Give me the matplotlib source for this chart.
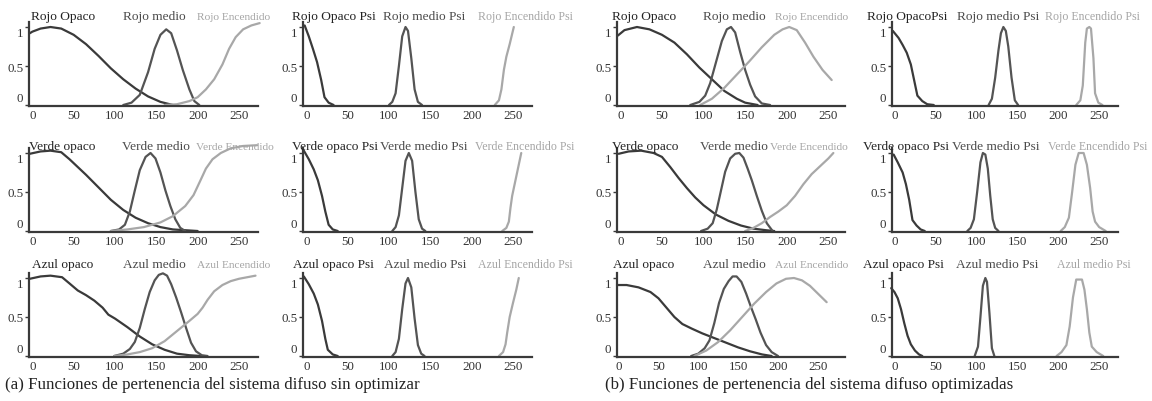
import matplotlib
matplotlib.use("Agg")
import matplotlib.pyplot as plt
from matplotlib.transforms import ScaledTranslation

plt.rcParams['font.family'] = ['Liberation Serif', 'DejaVu Serif']

W, H = 1152, 402

# ---------------- datos ----------------
# (a) sin optimizar -- cada lista: [opaco, medio, encendido]
a_rojo_x = [
    [-3, 0, 10, 22, 35, 50, 65, 80, 95, 110, 125, 140, 155, 170],
    [110, 120, 130, 140, 148, 155, 162, 168, 175, 182, 190, 196, 202],
    [160, 175, 190, 200, 210, 220, 230, 238, 246, 255, 265, 275],
]
a_rojo_y = [
    [0.92, 0.94, 0.98, 1.0, 0.98, 0.9, 0.78, 0.63, 0.47, 0.33, 0.21, 0.11, 0.04, 0.0],
    [0, 0.03, 0.13, 0.42, 0.72, 0.9, 0.97, 0.92, 0.7, 0.45, 0.2, 0.05, 0],
    [0, 0.01, 0.05, 0.1, 0.2, 0.33, 0.52, 0.72, 0.87, 0.97, 1.02, 1.05],
]
a_rojo_psi_x = [
    [-2, 3, 8, 13, 18, 22, 27, 33],
    [100, 104, 108, 112, 116, 120, 123, 127, 131, 135, 140],
    [228, 233, 236, 239, 242, 246, 251],
]
a_rojo_psi_y = [
    [1.02, 0.88, 0.72, 0.55, 0.32, 0.1, 0.03, 0],
    [0, 0.04, 0.15, 0.5, 0.88, 1.0, 0.95, 0.6, 0.2, 0.04, 0],
    [0, 0.06, 0.2, 0.45, 0.62, 0.78, 1.0],
]
a_verde_x = [
    [-3, 10, 22, 35, 45, 55, 65, 80, 95, 110, 125, 140, 155, 170, 185, 200],
    [95, 105, 112, 118, 124, 130, 137, 143, 149, 155, 161, 167, 173, 179, 185],
    [95, 115, 135, 155, 170, 185, 195, 203, 210, 218, 228, 240, 255, 272],
]
a_verde_y = [
    [0.99, 1.02, 1.03, 1.01, 0.92, 0.82, 0.72, 0.56, 0.4, 0.27, 0.17, 0.1, 0.05, 0.02, 0.01, 0.0],
    [0, 0.02, 0.08, 0.25, 0.52, 0.78, 0.95, 1.0, 0.93, 0.75, 0.52, 0.32, 0.15, 0.04, 0],
    [0, 0.02, 0.05, 0.11, 0.19, 0.32, 0.46, 0.64, 0.8, 0.92, 1.0, 1.06, 1.09, 1.1],
]
a_verde_psi_x = [
    [-3, 3, 9, 14, 19, 23, 27, 32, 38],
    [104, 108, 112, 116, 120, 124, 128, 132, 136, 140, 144],
    [237, 242, 245, 247, 249, 252, 256, 260],
]
a_verde_psi_y = [
    [1.03, 0.92, 0.79, 0.65, 0.45, 0.25, 0.08, 0.02, 0],
    [0, 0.05, 0.2, 0.55, 0.9, 1.0, 0.9, 0.5, 0.15, 0.03, 0],
    [0, 0.04, 0.12, 0.3, 0.45, 0.6, 0.8, 1.0],
]
a_azul_x = [
    [-3, 10, 22, 36, 45, 55, 65, 75, 85, 92, 100, 115, 130, 145, 160, 175, 190, 204],
    [99, 110, 118, 124, 130, 136, 142, 148, 153, 158, 163, 168, 174, 180, 186, 192, 198, 205, 212],
    [99, 115, 130, 145, 160, 175, 190, 200, 206, 212, 220, 230, 240, 250, 260, 270],
]
a_azul_y = [
    [0.99, 1.02, 1.03, 1.01, 0.93, 0.84, 0.78, 0.71, 0.62, 0.53, 0.48, 0.37, 0.25, 0.15, 0.08, 0.03, 0.01, 0],
    [0, 0.03, 0.09, 0.18, 0.36, 0.6, 0.82, 0.97, 1.04, 1.06, 1.03, 0.92, 0.75, 0.56, 0.36, 0.17, 0.06, 0.01, 0],
    [0, 0.02, 0.05, 0.1, 0.19, 0.32, 0.45, 0.54, 0.62, 0.72, 0.83, 0.91, 0.96, 0.99, 1.01, 1.03],
]
a_azul_psi_x = [
    [-3, 3, 9, 14, 19, 23, 26, 32, 38],
    [104, 108, 112, 116, 120, 123, 127, 131, 135, 139, 143],
    [233, 238, 241, 243, 246, 250, 254, 257],
]
a_azul_psi_y = [
    [1.02, 0.92, 0.8, 0.66, 0.45, 0.22, 0.08, 0.02, 0],
    [0, 0.05, 0.22, 0.6, 0.93, 1.0, 0.88, 0.48, 0.14, 0.03, 0],
    [0, 0.05, 0.15, 0.3, 0.5, 0.68, 0.85, 1.0],
]

# (b) optimizadas
b_rojo_x = [
    [-3, 5, 20, 35, 50, 65, 80, 95, 110, 125, 140, 150, 165],
    [84, 95, 102, 108, 115, 122, 128, 133, 138, 144, 150, 156, 162, 170, 180],
    [96, 110, 125, 140, 155, 170, 185, 195, 203, 212, 222, 232, 243, 254],
]
b_rojo_y = [
    [0.89, 0.96, 1.0, 0.97, 0.9, 0.8, 0.65, 0.48, 0.33, 0.18, 0.08, 0.03, 0],
    [0, 0.04, 0.12, 0.28, 0.55, 0.82, 0.97, 1.0, 0.93, 0.68, 0.45, 0.26, 0.11, 0.02, 0],
    [0, 0.08, 0.22, 0.39, 0.56, 0.74, 0.9, 0.97, 1.0, 0.96, 0.8, 0.62, 0.45, 0.32],
]
b_rojo_psi_x = [
    [-2, 5, 10, 15, 20, 24, 28, 34, 40, 48],
    [115, 119, 123, 127, 130, 133, 136, 139, 143, 147, 151],
    [222, 227, 230, 233, 235, 238, 240, 243, 245, 249, 254],
]
b_rojo_psi_y = [
    [0.95, 0.86, 0.77, 0.67, 0.52, 0.32, 0.12, 0.05, 0.01, 0],
    [0, 0.08, 0.35, 0.7, 0.92, 1.0, 0.95, 0.75, 0.35, 0.06, 0],
    [0, 0.06, 0.25, 0.8, 0.98, 1.0, 0.98, 0.6, 0.15, 0.03, 0],
]
b_verde_x = [
    [-2, 10, 25, 40, 50, 60, 70, 80, 90, 100, 115, 130, 145, 160, 175, 185],
    [97, 105, 111, 116, 121, 126, 132, 138, 143, 148, 153, 158, 164, 170, 176, 183],
    [150, 160, 170, 180, 190, 200, 210, 220, 230, 240, 250, 256],
]
b_verde_y = [
    [0.99, 1.02, 1.03, 1.0, 0.95, 0.82, 0.68, 0.55, 0.43, 0.33, 0.21, 0.13, 0.07, 0.03, 0.01, 0],
    [0, 0.03, 0.1, 0.28, 0.52, 0.76, 0.93, 0.99, 1.0, 0.94, 0.8, 0.65, 0.45, 0.26, 0.1, 0],
    [0, 0.04, 0.1, 0.18, 0.25, 0.33, 0.45, 0.6, 0.73, 0.83, 0.93, 1.0],
]
b_verde_psi_x = [
    [-1, 4, 10, 14, 18, 22, 27, 32, 37],
    [89, 93, 97, 101, 105, 108, 111, 114, 117, 120, 123, 127],
    [203, 208, 213, 217, 221, 225, 231, 235, 239, 242, 245, 250, 258],
]
b_verde_psi_y = [
    [0.98, 0.88, 0.75, 0.6, 0.4, 0.14, 0.07, 0.02, 0],
    [0, 0.04, 0.15, 0.5, 0.88, 1.0, 0.98, 0.8, 0.45, 0.15, 0.04, 0],
    [0, 0.05, 0.17, 0.5, 0.85, 1.0, 1.0, 0.85, 0.55, 0.25, 0.12, 0.05, 0],
]
b_azul_x = [
    [-2, 10, 25, 40, 50, 60, 70, 80, 92, 105, 120, 135, 150, 165, 180, 192],
    [91, 100, 108, 114, 120, 126, 132, 138, 143, 148, 154, 160, 166, 172, 178, 185, 192, 200],
    [95, 110, 125, 140, 155, 170, 185, 198, 210, 220, 230, 240, 250, 261],
]
b_azul_y = [
    [0.91, 0.91, 0.88, 0.82, 0.74, 0.62, 0.5, 0.41, 0.35, 0.29, 0.23, 0.17, 0.11, 0.06, 0.02, 0],
    [0, 0.03, 0.1, 0.2, 0.42, 0.68, 0.86, 0.96, 1.02, 1.02, 0.95, 0.8, 0.63, 0.47, 0.3, 0.14, 0.05, 0],
    [0, 0.07, 0.18, 0.33, 0.5, 0.67, 0.82, 0.93, 0.99, 1.0, 0.97, 0.9, 0.8, 0.69],
]
b_azul_psi_x = [
    [-4, 0, 4, 8, 12, 16, 20, 25, 30, 34],
    [98, 102, 105, 108, 111, 113, 116, 119, 122],
    [198, 204, 210, 214, 218, 222, 229, 232, 235, 238, 241, 247, 255],
]
b_azul_psi_y = [
    [0.87, 0.82, 0.74, 0.6, 0.42, 0.26, 0.15, 0.07, 0.02, 0],
    [0, 0.12, 0.5, 0.9, 1.0, 0.95, 0.55, 0.1, 0],
    [0, 0.05, 0.14, 0.38, 0.75, 0.98, 0.98, 0.85, 0.6, 0.3, 0.12, 0.05, 0],
]

a_names = [
    ["Rojo Opaco", "Rojo medio", "Rojo Encendido"],
    ["Verde opaco", "Verde medio", "Verde Encendido"],
    ["Azul opaco", "Azul medio", "Azul Encendido"],
]
a_psi_names = [
    ["Rojo Opaco Psi", "Rojo medio Psi", "Rojo Encendido Psi"],
    ["Verde opaco Psi", "Verde medio Psi", "Verde Encendido Psi"],
    ["Azul opaco Psi", "Azul medio Psi", "Azul Encendido Psi"],
]
b_names = a_names
b_psi_names = [
    ["Rojo OpacoPsi", "Rojo medio Psi", "Rojo Encendido Psi"],
    ["Verde opaco Psi", "Verde medio Psi", "Verde Encendido Psi"],
    ["Azul opaco Psi", "Azul medio Psi", "Azul medio Psi"],
]

x_ticks = [0, 50, 100, 150, 200, 250]
captions = ["(a) Funciones de pertenencia del sistema difuso sin optimizar",
            "(b) Funciones de pertenencia del sistema difuso optimizadas"]

# ---------------- layout (pixels) ----------------
col_left = [29, 303, 617, 892]
col_right = [258, 532, 845, 1118]
col_xlim = [(-4, 273), (-4, 273), (-4, 270), (-3, 273)]
row_base = [106, 232, 357]
row_title = [17, 147, 265]
# x position (px) of the three labels above every panel [row][col]
label_px = [
    [(31, 123, 197), (292, 383, 478), (612, 703, 775), (867, 957, 1045)],
    [(29, 122, 196), (292, 380, 475), (612, 700, 770), (863, 952, 1048)],
    [(32, 123, 197), (293, 384, 478), (613, 703, 775), (863, 956, 1057)],
]
line_colors = ['#3a3a3a', '#545454', '#a8a8a8']
text_colors = ['#222222', '#4a4a4a', '#a5a5a5']
label_sizes = [9.6, 9.6, 8.2]
psi_sizes = [9.6, 9.6, 8.6]

fig = plt.figure(figsize=(W / 100, H / 100), dpi=100)

panels = []
for r in range(3):
    panels.append((0, r, [a_rojo_x, a_verde_x, a_azul_x][r], [a_rojo_y, a_verde_y, a_azul_y][r], a_names[r]))
    panels.append((1, r, [a_rojo_psi_x, a_verde_psi_x, a_azul_psi_x][r],
                   [a_rojo_psi_y, a_verde_psi_y, a_azul_psi_y][r], a_psi_names[r]))
    panels.append((2, r, [b_rojo_x, b_verde_x, b_azul_x][r], [b_rojo_y, b_verde_y, b_azul_y][r], b_names[r]))
    panels.append((3, r, [b_rojo_psi_x, b_verde_psi_x, b_azul_psi_x][r],
                   [b_rojo_psi_y, b_verde_psi_y, b_azul_psi_y][r], b_psi_names[r]))

for col, row, xs, ys, names in panels:
    y_unit = 78.0
    y0, y1 = -0.01, 1.06
    bottom_px = row_base[row] + (0 - y0) * y_unit
    height_px = (y1 - y0) * y_unit
    ax = fig.add_axes([col_left[col] / W, 1 - bottom_px / H,
                       (col_right[col] - col_left[col]) / W, height_px / H])
    xlim = col_xlim[col]
    if col == 2 and row == 2:
        xlim = (-2, 284)
    ax.set_xlim(*xlim)
    ax.set_ylim(y0, y1)

    for k in range(3):
        ax.plot(xs[k], ys[k], color=line_colors[k], lw=1.6, clip_on=False,
                solid_capstyle='round', solid_joinstyle='round')

    for s in ['top', 'right']:
        ax.spines[s].set_visible(False)
    for s in ['left', 'bottom']:
        ax.spines[s].set_color('#3a3a3a')
        ax.spines[s].set_linewidth(1.6)
    ax.set_xticks(x_ticks)
    ax.set_xticklabels([str(t) for t in x_ticks])
    ax.set_yticks([0, 0.5, 1])
    ax.set_yticklabels(['0', '0.5', '1'])
    ax.tick_params(axis='x', length=0, pad=2, labelsize=9.4, labelcolor='#333333')
    ax.tick_params(axis='y', length=3, width=1, color='#3a3a3a', pad=1,
                   labelsize=9.4, labelcolor='#333333')
    yl = ax.get_yticklabels()
    yl[0].set_transform(yl[0].get_transform() + ScaledTranslation(0, 6 / 72, fig.dpi_scale_trans))
    yl[2].set_transform(yl[2].get_transform() + ScaledTranslation(0, -3 / 72, fig.dpi_scale_trans))

    sizes = psi_sizes if col in (1, 3) else label_sizes
    for k in range(3):
        fig.text(label_px[row][col][k] / W, 1 - row_title[row] / H, names[k],
                 color=text_colors[k], fontsize=sizes[k], ha='left', va='center')

fig.text(5 / W, 1 - 385 / H, captions[0], fontsize=12.2, color='#222222', ha='left', va='center')
fig.text(605 / W, 1 - 385 / H, captions[1], fontsize=12.2, color='#222222', ha='left', va='center')

fig.savefig('out.png', dpi=100)
